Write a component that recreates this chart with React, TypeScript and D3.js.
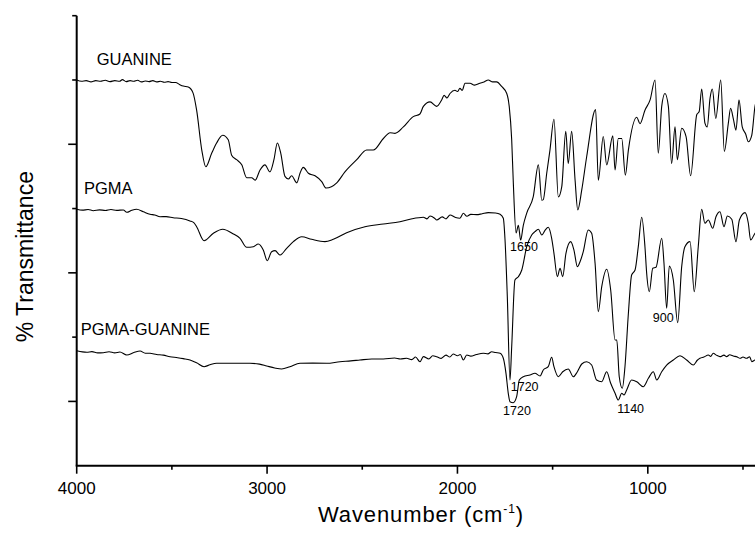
import React from "react";
import * as d3 from "d3";

// FTIR spectra: [wavenumber (cm-1), % transmittance (offset for stacking)]
const guanine: [number, number][] = [
  [4000, 60.0], [3975, 59.8], [3950, 59.9], [3925, 59.7], [3900, 59.9], [3875, 59.8], [3850, 59.95],
  [3825, 59.75], [3800, 59.9], [3775, 59.8], [3760, 60.05], [3740, 59.75], [3720, 59.9], [3700, 59.8],
  [3680, 59.95], [3660, 59.7], [3640, 59.85], [3620, 59.75], [3600, 59.9], [3580, 59.7], [3560, 59.8],
  [3540, 59.65], [3520, 59.75], [3500, 59.6], [3480, 59.6], [3460, 59.3], [3440, 59.05], [3414, 58.9],
  [3389, 58.0], [3370, 55.3], [3343, 49.1], [3322, 46.5], [3291, 48.6], [3265, 50.2], [3233, 51.4],
  [3204, 50.7], [3186, 48.3], [3160, 47.6], [3133, 46.8], [3107, 44.8], [3081, 44.8], [3063, 44.4],
  [3037, 46.0], [3011, 46.8], [2985, 45.7], [2964, 47.6], [2946, 50.2], [2928, 48.6], [2906, 45.0],
  [2888, 44.6], [2871, 45.1], [2844, 44.0], [2827, 45.5], [2810, 46.4], [2783, 45.5], [2748, 45.1],
  [2713, 44.2], [2690, 43.2], [2634, 44.0], [2591, 45.7], [2529, 47.6], [2477, 49.1], [2442, 49.1],
  [2389, 50.9], [2354, 51.8], [2328, 51.7], [2284, 52.7], [2232, 54.3], [2197, 54.7], [2179, 55.9],
  [2144, 56.6], [2109, 55.9], [2083, 56.9], [2070, 57.6], [2055, 57.2], [2039, 57.9], [2013, 58.4],
  [2000, 58.2], [1987, 58.7], [1975, 58.4], [1960, 59.5], [1934, 59.5], [1910, 59.2], [1882, 59.5],
  [1860, 59.7], [1838, 60.0], [1815, 59.7], [1794, 59.7], [1768, 59.0], [1741, 57.9], [1728, 55.9],
  [1715, 50.7], [1707, 44.4], [1692, 36.2], [1680, 37.4], [1668, 35.1], [1654, 37.4], [1636, 39.3],
  [1602, 41.8], [1575, 46.8], [1557, 41.3], [1549, 41.4], [1531, 45.5], [1514, 49.1], [1493, 53.9],
  [1470, 41.8], [1452, 43.4], [1431, 52.0], [1418, 47.0], [1400, 52.0], [1382, 44.4], [1368, 39.8],
  [1347, 42.9], [1321, 48.1], [1274, 55.4], [1260, 44.4], [1234, 51.2], [1216, 46.8], [1184, 51.3],
  [1172, 46.0], [1155, 50.9], [1137, 50.9], [1118, 45.2], [1102, 49.1], [1058, 54.2], [1041, 53.2],
  [1015, 55.3], [988, 56.9], [962, 60.0], [945, 48.6], [927, 55.9], [910, 57.9], [892, 55.9],
  [875, 47.0], [857, 52.7], [845, 47.6], [822, 52.5], [799, 51.2], [775, 45.1], [743, 54.6],
  [730, 55.1], [717, 58.6], [700, 53.3], [688, 52.7], [673, 57.2], [661, 58.6], [643, 54.0],
  [617, 60.0], [598, 48.9], [577, 53.3], [565, 55.6], [551, 54.0], [537, 52.2], [521, 56.9],
  [504, 52.7], [486, 51.6], [472, 50.4], [454, 51.4], [437, 55.9], [420, 57.5],
];

const pgma: [number, number][] = [
  [4000, 39.9], [3970, 39.75], [3940, 39.85], [3913, 39.67], [3880, 39.8], [3850, 39.7], [3820, 39.85],
  [3790, 39.72], [3755, 39.78], [3737, 39.42], [3710, 39.75], [3685, 39.89], [3650, 39.5], [3615, 39.11],
  [3590, 39.0], [3562, 38.73], [3530, 38.75], [3493, 38.58], [3450, 38.45], [3405, 38.07], [3385, 37.8],
  [3370, 37.18], [3331, 35.0], [3282, 36.15], [3233, 36.77], [3177, 36.04], [3142, 35.37], [3107, 33.97],
  [3072, 34.07], [3046, 34.49], [3020, 33.55], [2999, 31.89], [2976, 33.29], [2958, 33.45], [2932, 32.78],
  [2897, 33.82], [2862, 34.85], [2818, 35.62], [2766, 35.22], [2696, 34.85], [2652, 35.22], [2582, 36.25],
  [2486, 37.18], [2389, 37.6], [2302, 37.96], [2249, 38.33], [2179, 38.64], [2160, 38.4], [2144, 38.84],
  [2120, 38.5], [2109, 38.22], [2080, 38.7], [2060, 38.4], [2039, 39.0], [2010, 38.6], [1987, 38.49],
  [1969, 39.26], [1950, 38.8], [1930, 39.1], [1899, 39.05], [1870, 39.2], [1838, 39.36], [1800, 39.3],
  [1776, 39.11], [1759, 38.49], [1750, 35.11], [1738, 26.29], [1724, 13.33], [1715, 18.51], [1698, 28.89],
  [1680, 29.4], [1662, 30.44], [1636, 34.07], [1610, 35.89], [1593, 36.4], [1575, 36.77], [1557, 35.89],
  [1540, 36.6], [1523, 37.09], [1505, 35.37], [1493, 33.04], [1475, 29.4], [1461, 30.71], [1447, 29.4],
  [1430, 33.04], [1405, 34.85], [1388, 33.55], [1370, 30.96], [1356, 31.73], [1339, 33.29], [1313, 36.67],
  [1295, 36.15], [1277, 31.49], [1260, 23.96], [1242, 27.85], [1216, 30.55], [1195, 27.33], [1172, 19.55],
  [1163, 19.55], [1150, 13.84], [1134, 12.04], [1120, 15.4], [1102, 23.71], [1085, 29.67], [1067, 30.44],
  [1050, 34.07], [1032, 38.64], [1015, 34.07], [1006, 29.93], [992, 27.07], [974, 30.71], [957, 30.86],
  [927, 35.37], [915, 31.49], [901, 24.49], [887, 31.07], [866, 28.89], [843, 22.25], [822, 30.96],
  [805, 34.07], [778, 34.85], [756, 27.07], [735, 34.07], [717, 39.89], [700, 37.71], [682, 38.22],
  [659, 36.93], [642, 38.73], [621, 39.51], [600, 37.18], [582, 38.84], [559, 38.33], [537, 34.85],
  [519, 38.22], [489, 39.36], [472, 37.71], [460, 35.11], [437, 36.15], [420, 36.6],
];

const pgmaGuanine: [number, number][] = [
  [4000, 17.89], [3970, 17.7], [3947, 17.64], [3920, 17.75], [3890, 17.55], [3860, 17.58], [3830, 17.72],
  [3800, 17.55], [3773, 17.69], [3737, 17.22], [3700, 17.6], [3667, 17.84], [3640, 17.5], [3615, 17.49],
  [3580, 17.3], [3545, 17.2], [3510, 16.96], [3470, 16.8], [3440, 16.65], [3405, 16.44], [3370, 16.0],
  [3331, 15.4], [3300, 15.7], [3265, 15.93], [3177, 15.93], [3090, 15.93], [3040, 15.8], [3002, 15.51],
  [2960, 15.2], [2923, 15.04], [2880, 15.4], [2827, 15.93], [2760, 15.95], [2687, 15.93], [2617, 16.18],
  [2560, 16.3], [2512, 16.44], [2450, 16.6], [2389, 16.6], [2330, 16.75], [2300, 16.6], [2267, 16.71],
  [2240, 16.5], [2220, 16.9], [2197, 16.18], [2179, 16.96], [2150, 16.6], [2130, 17.1], [2109, 16.96],
  [2085, 16.7], [2060, 17.2], [2040, 16.9], [2022, 17.38], [2000, 17.1], [1985, 17.3], [1969, 16.44],
  [1951, 17.22], [1930, 17.05], [1900, 17.3], [1864, 17.49], [1840, 17.4], [1820, 17.73], [1800, 17.6],
  [1776, 17.49], [1759, 16.71], [1745, 14.37], [1733, 11.26], [1724, 9.96], [1707, 9.8], [1689, 10.73],
  [1675, 13.33], [1654, 13.84], [1619, 14.11], [1593, 14.37], [1566, 13.95], [1549, 14.89], [1523, 15.4],
  [1505, 16.86], [1493, 15.4], [1470, 13.84], [1447, 14.62], [1418, 15.04], [1391, 13.84], [1370, 14.62],
  [1347, 15.82], [1321, 16.18], [1295, 15.66], [1269, 13.33], [1242, 13.07], [1216, 14.62], [1195, 12.82],
  [1172, 11.26], [1155, 10.22], [1137, 11.26], [1125, 11.0], [1111, 11.78], [1085, 13.33], [1058, 13.07],
  [1024, 12.29], [997, 13.6], [971, 14.62], [953, 13.33], [927, 14.62], [901, 15.66], [866, 16.44],
  [831, 17.11], [796, 16.44], [761, 15.66], [740, 16.4], [726, 16.71], [705, 16.9], [682, 17.22],
  [670, 17.0], [656, 17.49], [640, 17.2], [621, 16.96], [600, 17.2], [586, 16.96], [570, 17.25],
  [551, 17.07], [530, 16.9], [516, 16.71], [500, 16.9], [481, 16.71], [465, 16.95], [454, 16.18],
  [437, 16.44], [420, 16.6],
];

const xMajorTicks = [4000, 3000, 2000, 1000];
const xMinorTicks = [3500, 2500, 1500, 500];
const yMajorTicks = [10, 30, 50];
const yMinorTicks = [20, 40, 60, 70];

// Series names with the wavenumber / level where each name sits
const seriesLabels = [
  { text: "GUANINE", wn: 3895, t: 62.3 },
  { text: "PGMA", wn: 3962, t: 42.2 },
  { text: "PGMA-GUANINE", wn: 3979, t: 20.4 },
];

// Band assignments written beside the peaks
const bandLabels = [
  { text: "1650", wn: 1650, t: 33.45, dx: -14 },
  { text: "900", wn: 900, t: 22.4, dx: -14 },
  { text: "1720", wn: 1720, t: 11.67, dx: 0 },
  { text: "1720", wn: 1720, t: 7.89, dx: -7.7 },
  { text: "1140", wn: 1140, t: 8.24, dx: -4 },
];

const FONT = "'Liberation Sans', Arial, Helvetica, sans-serif";

export default function App() {
  const width = 755;
  const height = 537;
  const left = 76.7;
  const top = 15.7;
  const bottom = 465.7;

  const x = d3.scaleLinear().domain([4000, 400]).range([left, left + 3600 * 0.19037]);
  const y = d3.scaleLinear().domain([0, 70]).range([bottom, top]);

  const line = d3
    .line<[number, number]>()
    .x((d) => x(d[0]))
    .y((d) => y(d[1]))
    .curve(d3.curveMonotoneX);

  const series = [guanine, pgma, pgmaGuanine];
  const xRight = x(400);

  return (
    <svg
      width={width}
      height={height}
      viewBox={`0 0 ${width} ${height}`}
      style={{ position: "absolute", left: 0, top: 0, background: "#fff" }}
      fontFamily={FONT}
    >
      <rect width={width} height={height} fill="#fff" />

      {series.map((s, i) => (
        <path key={i} d={line(s) ?? ""} fill="none" stroke="#000" strokeWidth={1.1} strokeLinejoin="round" />
      ))}

      {/* axes */}
      <line x1={left} x2={left} y1={top} y2={bottom} stroke="#000" strokeWidth={2} />
      <line x1={left - 1} x2={xRight} y1={bottom} y2={bottom} stroke="#000" strokeWidth={2} />

      {yMajorTicks.map((t) => (
        <line key={`ym${t}`} x1={left - 8.5} x2={left} y1={y(t)} y2={y(t)} stroke="#000" strokeWidth={1.6} />
      ))}
      {yMinorTicks.map((t) => (
        <line key={`yn${t}`} x1={left - 4.5} x2={left} y1={y(t)} y2={y(t)} stroke="#000" strokeWidth={1.6} />
      ))}
      {xMajorTicks.map((t) => (
        <line key={`xm${t}`} x1={x(t)} x2={x(t)} y1={bottom} y2={bottom + 8} stroke="#000" strokeWidth={1.6} />
      ))}
      {xMinorTicks.map((t) => (
        <line key={`xn${t}`} x1={x(t)} x2={x(t)} y1={bottom} y2={bottom + 4} stroke="#000" strokeWidth={1.6} />
      ))}
      {xMajorTicks.map((t) => (
        <text key={`xl${t}`} x={x(t)} y={494.3} textAnchor="middle" fontSize={17} fill="#000">
          {t}
        </text>
      ))}

      {/* axis titles */}
      <text x={421} y={521.7} textAnchor="middle" fontSize={22} letterSpacing={0.9} fill="#000">
        Wavenumber (cm
        <tspan dy={-9} fontSize={12}>
          -1
        </tspan>
        <tspan dy={9}>)</tspan>
      </text>
      <text
        transform="translate(33,256.7) rotate(-90)"
        textAnchor="middle"
        fontSize={23}
        fill="#000"
      >
        % Transmittance
      </text>

      {seriesLabels.map((l) => (
        <text key={l.text} x={x(l.wn)} y={y(l.t)} fontSize={16.5} fill="#000">
          {l.text}
        </text>
      ))}

      {bandLabels.map((b, i) => (
        <text key={i} x={x(b.wn) + b.dx} y={y(b.t)} fontSize={12.5} fill="#000">
          {b.text}
        </text>
      ))}
    </svg>
  );
}
